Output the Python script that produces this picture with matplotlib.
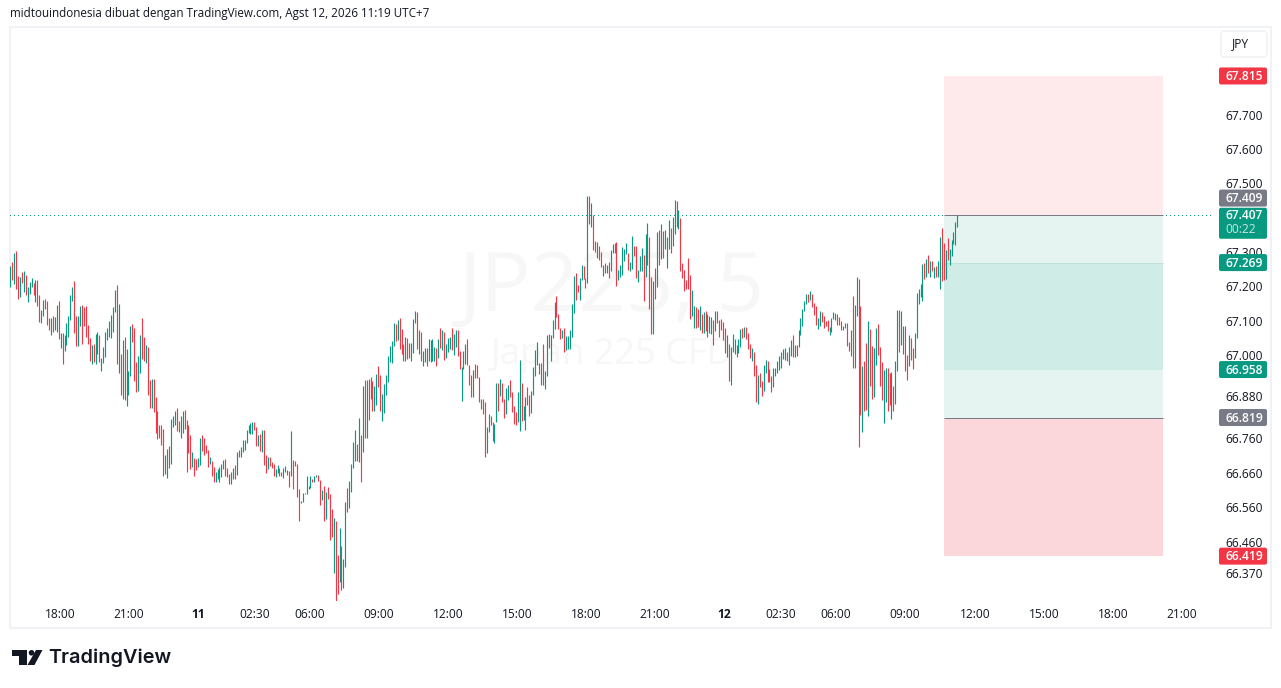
import numpy as np
import matplotlib
matplotlib.use("Agg")
import matplotlib.pyplot as plt
from matplotlib.patches import Rectangle, FancyBboxPatch, Polygon, Circle
from matplotlib.transforms import IdentityTransform, ScaledTranslation

W, H = 1281, 688
PX = 72 / 100

highs = [
 67.258,67.271,67.297,67.303,67.230,67.227,67.242,67.245,67.233,67.198,
 67.213,67.224,67.210,67.219,67.219,67.175,67.131,67.160,67.163,67.157,
 67.108,67.108,67.114,67.111,67.146,67.157,67.064,67.064,67.058,67.093,
 67.114,67.175,67.198,67.216,67.114,67.114,67.143,67.146,67.140,67.143,
 67.087,67.049,67.029,67.032,67.061,67.067,67.058,66.991,67.023,67.067,
 67.079,67.099,67.117,67.140,67.189,67.204,67.149,67.003,67.044,67.052,
 67.017,66.953,67.084,67.090,67.079,66.980,66.997,67.058,67.108,67.052,
 67.029,67.023,66.927,66.930,66.930,66.877,66.837,66.796,66.796,66.787,
 66.711,66.729,66.738,66.816,66.822,66.837,66.848,66.808,66.822,66.837,
 66.842,66.813,66.796,66.767,66.720,66.703,66.700,66.703,66.761,66.769,
 66.761,66.740,66.726,66.705,66.694,66.677,66.662,66.671,66.677,66.685,
 66.697,66.700,66.674,66.656,66.662,66.674,66.682,66.720,66.726,66.735,
 66.755,66.755,66.782,66.796,66.802,66.805,66.805,66.793,66.767,66.770,
 66.782,66.782,66.712,66.706,66.706,66.691,66.685,66.671,66.682,66.674,
 66.662,66.674,66.680,66.668,66.665,66.779,66.697,66.694,66.685,66.612,
 66.578,66.601,66.601,66.650,66.621,66.650,66.642,66.650,66.653,66.653,
 66.639,66.610,66.621,66.604,66.618,66.598,66.554,66.528,66.519,66.423,
 66.499,66.449,66.411,66.575,66.615,66.636,66.685,66.747,66.782,66.741,
 66.817,66.767,66.910,66.927,66.927,66.930,66.936,66.924,66.910,66.945,
 66.968,66.942,66.887,66.916,66.942,66.997,67.027,67.041,67.094,67.091,
 67.103,67.109,67.076,67.032,67.052,67.049,67.035,67.035,67.105,67.128,
 67.125,67.073,67.067,67.012,67.020,67.020,67.047,67.044,67.047,67.023,
 67.020,67.047,67.079,67.073,67.067,67.032,67.049,67.052,67.079,67.061,
 67.073,67.073,67.012,66.965,67.012,67.032,67.047,66.971,66.942,66.956,
 66.974,66.971,66.936,66.874,66.872,66.863,66.793,66.830,66.822,66.807,
 66.799,66.918,66.918,66.930,66.918,66.874,66.904,66.912,66.927,66.892,
 66.851,66.834,66.892,66.985,66.918,66.851,66.877,66.907,66.883,66.895,
 66.965,67.014,67.038,66.977,66.977,67.032,66.953,67.058,67.061,67.058,
 67.102,67.154,67.172,67.119,67.079,67.073,67.079,67.055,67.055,67.073,
 67.149,67.230,67.239,67.204,67.224,67.262,67.259,67.224,67.464,67.464,
 67.443,67.408,67.332,67.329,67.318,67.300,67.262,67.268,67.262,67.271,
 67.306,67.324,67.326,67.329,67.248,67.262,67.315,67.309,67.326,67.297,
 67.271,67.347,67.318,67.318,67.248,67.289,67.312,67.291,67.353,67.385,
 67.344,67.227,67.216,67.254,67.359,67.364,67.382,67.361,67.364,67.344,
 67.393,67.370,67.402,67.452,67.449,67.423,67.399,67.268,67.248,67.219,
 67.283,67.233,67.189,67.143,67.140,67.134,67.143,67.119,67.125,67.128,
 67.119,67.114,67.111,67.102,67.128,67.128,67.102,67.105,67.096,67.079,
 67.058,67.032,67.023,67.061,67.047,67.029,67.047,67.076,67.079,67.082,
 67.082,67.064,67.032,67.020,67.009,66.971,66.942,66.947,66.924,66.971,
 66.985,66.982,66.959,66.939,66.962,66.962,66.982,66.997,67.009,67.017,
 67.020,67.009,67.023,67.044,67.058,67.029,67.029,67.073,67.108,67.134,
 67.157,67.178,67.178,67.187,67.178,67.152,67.143,67.108,67.128,67.125,
 67.114,67.099,67.102,67.082,67.108,67.125,67.122,67.120,67.111,67.099,
 67.085,67.093,67.093,67.038,67.073,67.172,67.146,67.227,67.222,67.143,
 66.968,66.983,67.035,67.099,67.076,67.026,67.020,67.079,67.090,67.023,
 66.980,66.956,66.962,66.962,66.948,66.951,66.910,66.983,67.131,67.131,
 67.128,67.085,67.085,67.000,67.058,67.050,67.020,67.064,67.181,67.192,
 67.207,67.265,67.268,67.280,67.292,67.274,67.274,67.257,67.260,67.274,
 67.344,67.370,67.327,67.306,67.341,67.309,67.335,67.359,67.388,67.408,
]
lows = [
 67.199,67.219,67.207,67.192,67.163,67.169,67.210,67.184,67.175,67.154,
 67.178,67.198,67.175,67.154,67.143,67.096,67.093,67.114,67.134,67.087,
 67.073,67.058,67.067,67.073,67.067,67.047,67.020,66.974,67.012,67.029,
 67.052,67.102,67.157,67.064,67.026,67.026,67.084,67.032,67.084,67.052,
 67.032,66.982,66.974,66.980,66.974,67.003,66.980,66.953,66.977,66.994,
 67.044,67.052,67.049,67.067,67.125,66.974,66.947,66.883,66.872,66.869,
 66.851,66.883,66.939,67.038,66.924,66.892,66.895,66.947,66.988,66.982,
 66.977,66.883,66.848,66.848,66.834,66.773,66.758,66.761,66.740,66.650,
 66.656,66.644,66.673,66.685,66.793,66.796,66.781,66.778,66.761,66.773,
 66.787,66.662,66.717,66.670,66.676,66.650,66.667,66.676,66.682,66.723,
 66.711,66.717,66.676,66.685,66.650,66.633,66.633,66.642,66.633,66.647,
 66.671,66.650,66.647,66.627,66.627,66.642,66.642,66.653,66.706,66.706,
 66.720,66.726,66.744,66.773,66.770,66.770,66.782,66.738,66.738,66.723,
 66.720,66.682,66.659,66.671,66.680,66.674,66.650,66.647,66.659,66.650,
 66.650,66.645,66.662,66.653,66.618,66.650,66.612,66.680,66.589,66.519,
 66.572,66.575,66.598,66.598,66.612,66.615,66.633,66.633,66.647,66.636,
 66.566,66.580,66.519,66.525,66.583,66.464,66.473,66.371,66.291,66.310,
 66.345,66.322,66.328,66.388,66.545,66.557,66.604,66.674,66.694,66.694,
 66.691,66.633,66.720,66.761,66.761,66.811,66.872,66.837,66.837,66.854,
 66.907,66.837,66.808,66.831,66.884,66.921,66.980,66.977,67.027,67.041,
 67.044,67.018,67.004,66.982,66.982,66.988,66.991,66.982,67.006,67.093,
 67.017,67.003,66.982,66.968,66.980,66.968,66.982,66.980,66.982,66.982,
 66.968,66.991,67.020,67.014,66.985,66.991,67.009,67.017,67.014,67.000,
 67.023,66.997,66.959,66.866,66.959,66.974,66.971,66.912,66.877,66.877,
 66.933,66.933,66.863,66.845,66.828,66.705,66.717,66.778,66.796,66.752,
 66.746,66.807,66.837,66.880,66.863,66.819,66.828,66.869,66.877,66.834,
 66.799,66.796,66.805,66.781,66.810,66.813,66.784,66.854,66.822,66.831,
 66.883,66.939,66.971,66.944,66.912,66.912,66.901,66.939,67.020,66.982,
 67.049,67.076,67.111,67.076,67.047,67.049,67.009,67.014,67.017,67.017,
 67.052,67.122,67.160,67.184,67.160,67.219,67.221,67.195,67.210,67.382,
 67.373,67.306,67.300,67.283,67.277,67.256,67.230,67.239,67.239,67.224,
 67.245,67.297,67.297,67.201,67.219,67.227,67.233,67.274,67.294,67.248,
 67.245,67.251,67.289,67.224,67.213,67.245,67.245,67.157,67.227,67.262,
 67.134,67.061,67.061,67.163,67.198,67.262,67.280,67.283,67.309,67.254,
 67.309,67.297,67.318,67.353,67.373,67.367,67.245,67.224,67.186,67.192,
 67.192,67.105,67.114,67.079,67.079,67.082,67.073,67.064,67.064,67.070,
 67.052,67.064,67.061,67.029,67.070,67.093,67.052,67.073,67.044,67.006,
 66.994,66.924,66.912,67.009,67.003,66.994,67.006,67.023,67.049,67.052,
 67.047,67.017,66.991,66.982,66.939,66.863,66.857,66.906,66.880,66.895,
 66.947,66.921,66.921,66.892,66.906,66.939,66.947,66.956,66.962,66.988,
 66.985,66.982,66.971,66.997,66.994,66.994,66.997,67.023,67.058,67.084,
 67.128,67.149,67.154,67.160,67.140,67.117,67.088,67.076,67.085,67.096,
 67.079,67.085,67.070,67.058,67.067,67.105,67.102,67.088,67.088,67.073,
 67.073,67.079,67.026,67.012,66.997,66.962,66.962,67.114,66.735,66.825,
 66.776,66.837,66.840,66.822,66.910,66.872,66.878,66.971,67.000,66.910,
 66.869,66.802,66.863,66.837,66.854,66.816,66.837,66.857,66.953,67.009,
 67.029,67.003,66.953,66.927,66.968,66.985,66.959,66.991,67.050,67.149,
 67.169,67.157,67.222,67.227,67.239,67.227,67.245,67.225,67.227,67.227,
 67.192,67.216,67.219,67.222,67.277,67.262,67.289,67.324,67.321,67.373,
]
directions = (
 "GRGRRGRGRG" "GGRGRRGGRR" "RGRGGRGRGG" "GGGRRGGRRR" "RRGRGGRGGG"
 "GGGGGRGRGR" "GGGRRRGGRR" "GRRGRRRRRR" "GGRGGGRRGG" "RRRRGRRGGR"
 "RRRGRRGGGG" "GRRRGGRGRG" "GGGGGGRRGR" "GRRGRRRGGR" "RGGRRGRRRR"
 "GGGGGGRGGR" "RGRGRRRGRR" "GRGGRGGGGR" "GRGRGRRRGG" "RRGGGGGGGR"
 "GRRRGRRGGG" "RGRGGRGGGG" "RGRGRGGGRG" "GRRGGGRRRG" "RRRGRRGGRR"
 "GGRGRRGGRR" "RRGGRGGRRG" "GGGRGRGGRG" "GGRRRGRGGG" "GGRRGGRRGR"
 "GRRGRRGRGR" "GGRRGGGGGR" "GGRRGGGRGG" "RRGRGRGRGG" "GRGGRGRRRR"
 "RRGGRRGRGR" "GGGRGRRRRR" "GRGGGRGGRG" "RRRGRRGRRG" "GRRRGGGGGG"
 "GRGGRGRGGG" "GGRGRRRGGR" "RRRGGGGRRR" "GGRRGRGGRR" "GRRGRRGGRR"
 "RGGRRGRGGR" "GGRRGRRGGG" "GGRGRGRGRG" "GRRGRGGGGG"
)

price_ticks = [67.7, 67.6, 67.5, 67.3, 67.2, 67.1, 67.0, 66.88, 66.76, 66.66, 66.56, 66.46, 66.37]
time_labels = ["18:00", "21:00", "11", "02:30", "06:00", "09:00", "12:00", "15:00", "18:00", "21:00",
               "12", "02:30", "06:00", "09:00", "12:00", "15:00", "18:00", "21:00"]
time_index = [25.7, 61.3, 96.9, 126.4, 154.8, 190.4, 226.0, 261.6, 297.3, 332.9,
              368.5, 397.9, 426.3, 461.9, 498.0, 533.7, 569.3, 604.9]

target_price = 67.815
entry_price = 67.409
stop_price = 66.819
stop_limit = 66.419
inner_top = 67.269
inner_bottom = 66.958
last_price = 67.407
countdown = "00:22"
zone_start = 482.1
zone_end = 595.2

RED, TEAL, GRAY, INK = "#f23645", "#089981", "#787b86", "#131722"
plt.rcParams["font.family"] = ["Open Sans", "DejaVu Sans"]
fs = 12 * PX

fig = plt.figure(figsize=(W / 100, H / 100), dpi=100, facecolor="white")
ax = fig.add_axes([10 / W, 1 - 601 / H, 1202 / W, 574 / H], facecolor="none")
ax.set_yscale("log")
ax.set_xlim(-0.155, 620.5)
ax.set_ylim(66.290, 67.959)
ax.minorticks_off()
for s in ax.spines.values():
    s.set_visible(False)

def box(x0, top, x1, bottom, **kw):
    r = Rectangle((x0 / W, 1 - bottom / H), (x1 - x0) / W, (bottom - top) / H,
                  transform=fig.transFigure, **kw)
    fig.add_artist(r)
    return r

box(10, 27, 1271, 628, fc="none", ec="#f1f2f5", lw=2 * PX, zorder=-5)

ax.text(602 / 1202, 1 - (290 - 27) / 574, "JP225, 5", transform=ax.transAxes, ha="center", va="center",
        fontsize=60, color="#f7f7f7", zorder=0)
ax.text(602 / 1202, 1 - (355 - 27) / 574, "Japan 225 CFD", transform=ax.transAxes, ha="center", va="center",
        fontsize=26, color="#f7f7f7", zorder=0)

def zone(p0, p1, color, z=1):
    ax.add_patch(Rectangle((zone_start, p0), zone_end - zone_start, p1 - p0, fc=color, ec="none", zorder=z))

zone(entry_price, target_price, "#feeaeb")
zone(stop_price, entry_price, "#e5f4f1")
zone(inner_bottom, inner_top, "#d0ece6")
zone(stop_limit, stop_price, "#fbd6da")
ax.hlines(inner_top, zone_start, zone_end, color="#bde3da", lw=PX, zorder=1.2)

dotted = ax.axhline(last_price, color=TEAL, lw=PX, linestyle=(0, (1, 3)), zorder=1.5, antialiased=False)

idx = np.arange(len(highs))
cols = [RED if d == "R" else TEAL for d in directions]
bars = ax.vlines(idx, lows, highs, colors=cols, lw=PX * 1.15, zorder=2)
bars.set_capstyle("butt")

ax.hlines([entry_price, stop_price], zone_start, zone_end, color=GRAY, lw=PX, zorder=3)

ax.yaxis.tick_right()
ax.set_yticks(price_ticks)
ax.set_yticklabels([f"{p:.3f}" for p in price_ticks], fontsize=fs, color=INK)
ax.minorticks_off()
ax.set_xticks(time_index)
ax.set_xticklabels(time_labels, fontsize=fs, color=INK)
ax.tick_params(axis="both", length=0)
ax.tick_params(axis="y", pad=13 * PX)
ax.tick_params(axis="x", pad=7 * PX)
for lab in ax.get_xticklabels():
    if lab.get_text() in ("11", "12"):
        lab.set_fontweight("bold")

to_py = lambda p: ax.transData.transform((0, p))[1]

def badge(price, color, offset=0, text=None, height=17, sub=None):
    yc = to_py(price) + offset
    if sub:
        y0, hgt = yc - 23.5, 31
    else:
        y0, hgt = yc - height / 2, height
    ax.add_patch(FancyBboxPatch((1219, y0), 48, hgt, boxstyle="round,pad=0,rounding_size=2",
                                fc=color, ec="none", transform=IdentityTransform(), clip_on=False, zorder=8))
    ax.text(1225, yc - 0.5, text or f"{price:.3f}", color="white", fontsize=fs, fontweight="semibold",
            ha="left", va="center", transform=IdentityTransform(), clip_on=False, zorder=9)
    if sub:
        ax.text(1225, yc - 14.5, sub, color="#c8e8e0", fontsize=fs, ha="left", va="center",
                transform=IdentityTransform(), clip_on=False, zorder=9)

badge(target_price, RED)
badge(last_price, TEAL, sub=countdown)
badge(entry_price, GRAY, offset=16.5)
badge(inner_top, TEAL)
badge(inner_bottom, TEAL)
badge(stop_price, GRAY)
badge(stop_limit, RED)

# currency button
fig.add_artist(FancyBboxPatch((1221, H - 57), 46, 26, boxstyle="round,pad=0,rounding_size=4",
                              fc="white", ec="#eef0f3", lw=1.5 * PX, transform=IdentityTransform()))
fig.text(1240.5 / W, 1 - 44 / H, "JPY", fontsize=fs, color=INK, ha="center", va="center")

fig.text(10 / W, 1 - 14 / H, "midtouindonesia dibuat dengan TradingView.com, Agst 12, 2026 11:19 UTC+7",
         fontsize=fs * 0.965, color=INK, ha="left", va="center")

# logo
def poly(pts, **kw):
    fig.add_artist(Polygon([(x, H - y) for x, y in pts], closed=True, transform=IdentityTransform(), fc="#131722", ec="none", **kw))

poly([(12, 650), (27, 650), (27, 665), (18.5, 665), (18.5, 656), (12, 656)])
poly([(36, 650), (42.5, 650), (34.5, 665), (27.5, 665)])
fig.add_artist(Circle((31.5, H - 652.8), 2.8, transform=IdentityTransform(), fc="#131722", ec="none"))
fig.text(48 / W, 1 - 658 / H, "TradingView", fontsize=14.3, fontweight="semibold", family=["Inter", "DejaVu Sans"],
         color="#131722", ha="left", va="center")

fig.savefig("out.png", dpi=100, facecolor="white")
